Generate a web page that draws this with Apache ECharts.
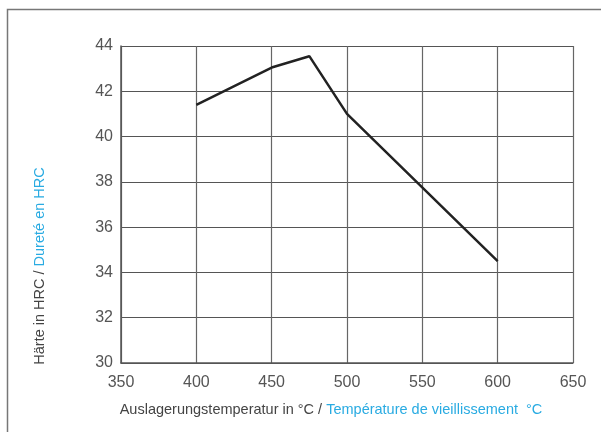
<!DOCTYPE html>
<html>
<head>
<meta charset="utf-8">
<script src="https://cdn.jsdelivr.net/npm/echarts@6/dist/echarts.min.js"></script>
<style>
  html, body { margin: 0; padding: 0; background: #fff; }
  #main { width: 601px; height: 432px; }
</style>
</head>
<body>
<div id="main"></div>
<script>
// Auslagerungstemperatur (°C) vs Härte (HRC)
var temps = [400, 450, 475, 500, 600];
var hardness = [41.4, 43.05, 43.55, 41.0, 34.5];
var xTicks = [350, 400, 450, 500, 550, 600, 650];
var yTicks = [30, 32, 34, 36, 38, 40, 42, 44];

var blue = '#29abe2';
var font = 'Liberation Sans';

var myChart = echarts.init(document.getElementById('main'));
myChart.setOption({
  animation: false,
  grid: { left: 121, right: 28, top: 46, bottom: 69 },
  xAxis: {
    type: 'value',
    min: xTicks[0], max: xTicks[xTicks.length - 1], interval: 50,
    axisLine: { show: true, lineStyle: { color: '#555', width: 1.5 } },
    axisTick: { show: false },
    axisLabel: { color: '#555', fontSize: 16, fontFamily: font, margin: 12 },
    splitLine: { show: true, lineStyle: { color: '#666', width: 1.2 } }
  },
  yAxis: {
    type: 'value',
    min: yTicks[0], max: yTicks[yTicks.length - 1], interval: 2,
    axisLine: { show: true, lineStyle: { color: '#555', width: 1.5 } },
    axisTick: { show: false },
    axisLabel: { color: '#555', fontSize: 16, fontFamily: font, margin: 8 },
    splitLine: { show: true, lineStyle: { color: '#555', width: 1.2 } }
  },
  graphic: [
    {
      type: 'rect',
      shape: { x: 7.5, y: 9.5, width: 620, height: 440 },
      style: { fill: null, stroke: '#777', lineWidth: 1.5 },
      silent: true
    },
    {
      type: 'text',
      x: 331, y: 410,
      style: {
        text: '{a|Auslagerungstemperatur in °C / }{b|Température de vieillissement  °C}',
        align: 'center', verticalAlign: 'middle',
        rich: {
          a: { fill: '#444', fontSize: 14.5, fontFamily: font },
          b: { fill: blue, fontSize: 14.5, fontFamily: font }
        }
      }
    },
    {
      type: 'text',
      x: 40, y: 266,
      rotation: Math.PI / 2,
      style: {
        text: '{a|Härte in HRC / }{b|Dureté en HRC}',
        align: 'center', verticalAlign: 'middle',
        rich: {
          a: { fill: '#444', fontSize: 14.5, fontFamily: font },
          b: { fill: blue, fontSize: 14.5, fontFamily: font }
        }
      }
    }
  ],
  series: [{
    type: 'line',
    data: temps.map(function (t, i) { return [t, hardness[i]]; }),
    showSymbol: false,
    lineStyle: { color: '#222', width: 2.5 }
  }]
});
</script>
</body>
</html>
